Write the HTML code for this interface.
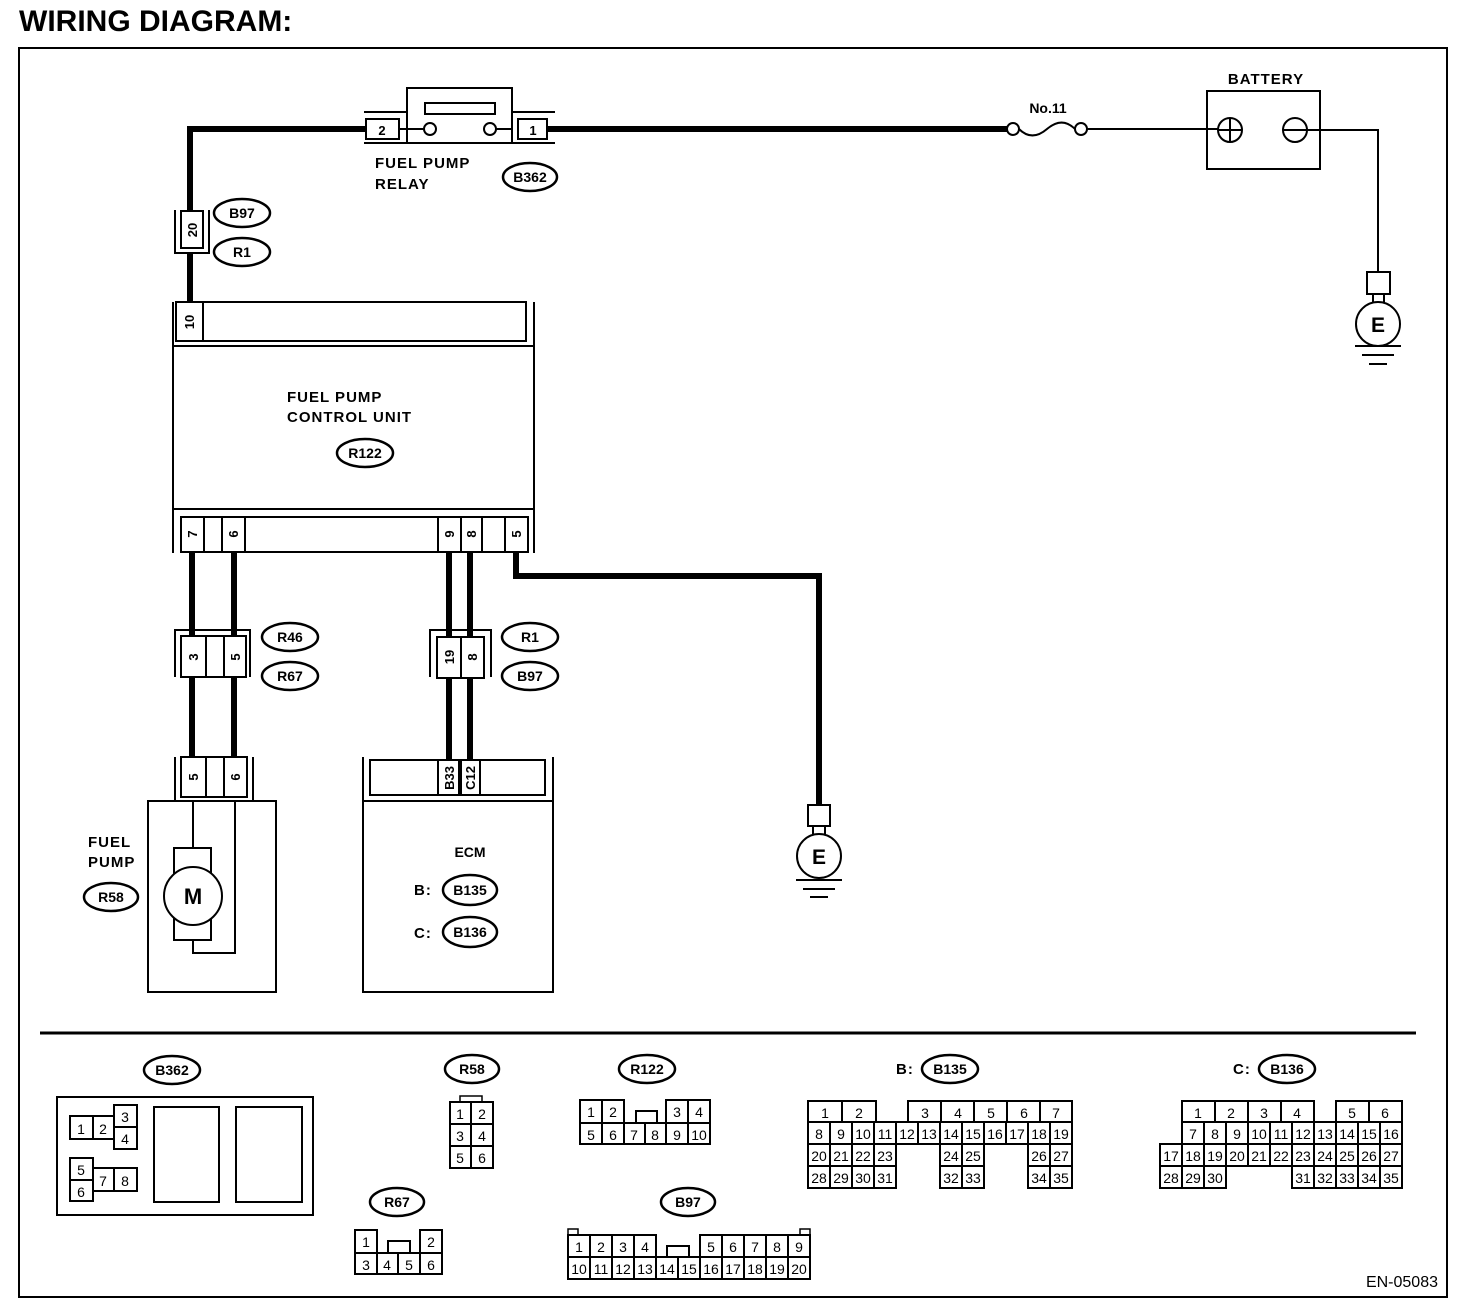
<!DOCTYPE html>
<html><head><meta charset="utf-8"><style>
html,body{margin:0;padding:0;background:#fff;}
svg{display:block;}
text{font-family:"Liberation Sans",sans-serif;fill:#000;}
.b{font-weight:bold;font-size:15px;letter-spacing:1px;}
.e{font-weight:bold;font-size:14px;text-anchor:middle;}
.n{font-size:14px;text-anchor:middle;}
.p{font-weight:bold;font-size:13px;text-anchor:middle;}
.c{fill:#fff;stroke:#000;stroke-width:2;}
.t{fill:none;stroke:#000;stroke-width:2;}
.w{fill:none;stroke:#000;stroke-width:6;}
.o{fill:#fff;stroke:#000;stroke-width:2.5;}
</style></head><body>
<svg width="1472" height="1304" viewBox="0 0 1472 1304" xmlns="http://www.w3.org/2000/svg">
<text x="19" y="31" style="font-weight:bold;font-size:30px;">WIRING DIAGRAM:</text>
<rect x="19" y="48" width="1428" height="1249" class="t"/>

<!-- wires -->
<polyline points="365,129 190,129 190,210" class="w"/>
<line x1="190" y1="253" x2="190" y2="302" class="w"/>
<line x1="547" y1="129" x2="1007" y2="129" class="w"/>
<line x1="192" y1="552" x2="192" y2="636" class="w"/>
<line x1="234" y1="552" x2="234" y2="636" class="w"/>
<line x1="192" y1="677" x2="192" y2="757" class="w"/>
<line x1="234" y1="677" x2="234" y2="757" class="w"/>
<line x1="449" y1="552" x2="449" y2="637" class="w"/>
<line x1="470" y1="552" x2="470" y2="637" class="w"/>
<line x1="449" y1="678" x2="449" y2="760" class="w"/>
<line x1="470" y1="678" x2="470" y2="760" class="w"/>
<polyline points="516,552 516,576 819,576 819,805" class="w"/>

<!-- relay -->
<line x1="364" y1="112" x2="408" y2="112" class="t"/>
<line x1="364" y1="143" x2="408" y2="143" class="t"/>
<rect x="366" y="119" width="33" height="20" class="c"/>
<text x="382" y="135" class="p">2</text>
<rect x="407" y="88" width="105" height="55" class="c"/>
<rect x="425" y="103" width="70" height="11" class="c"/>
<line x1="399" y1="129" x2="424" y2="129" class="t"/>
<line x1="496" y1="129" x2="512" y2="129" class="t"/>
<circle cx="430" cy="129" r="6" class="c"/>
<circle cx="490" cy="129" r="6" class="c"/>
<line x1="512" y1="112" x2="555" y2="112" class="t"/>
<line x1="512" y1="143" x2="555" y2="143" class="t"/>
<rect x="518" y="119" width="29" height="20" class="c"/>
<text x="533" y="135" class="p">1</text>
<text x="375" y="168" class="b">FUEL PUMP</text>
<text x="375" y="189" class="b">RELAY</text>
<ellipse cx="530" cy="177" rx="27" ry="14" class="o"/><text x="530" y="182" class="e">B362</text>

<!-- connector 20 -->
<polyline points="175,210 175,253 209,253 209,210" class="t"/>
<rect x="181" y="211" width="22" height="37" class="c"/>
<text transform="translate(197,230) rotate(-90)" class="p">20</text>
<ellipse cx="242" cy="213" rx="28" ry="14" class="o"/><text x="242" y="218" class="e">B97</text>
<ellipse cx="242" cy="252" rx="28" ry="14" class="o"/><text x="242" y="257" class="e">R1</text>

<!-- FPCU -->
<line x1="173" y1="302" x2="173" y2="553" class="t"/>
<line x1="534" y1="302" x2="534" y2="553" class="t"/>
<rect x="176" y="302" width="350" height="39" class="c"/>
<line x1="203" y1="302" x2="203" y2="341" class="t"/>
<text transform="translate(194,322) rotate(-90)" class="p">10</text>
<line x1="173" y1="346" x2="534" y2="346" class="t"/>
<line x1="173" y1="509" x2="534" y2="509" class="t"/>
<text x="287" y="402" class="b">FUEL PUMP</text>
<text x="287" y="422" class="b">CONTROL UNIT</text>
<ellipse cx="365" cy="453" rx="28" ry="14" class="o"/><text x="365" y="458" class="e">R122</text>
<rect x="181" y="517" width="347" height="35" class="c"/>
<line x1="204" y1="517" x2="204" y2="552" class="t"/>
<line x1="222" y1="517" x2="222" y2="552" class="t"/>
<line x1="245" y1="517" x2="245" y2="552" class="t"/>
<line x1="438" y1="517" x2="438" y2="552" class="t"/>
<line x1="461" y1="517" x2="461" y2="552" class="t"/>
<line x1="482" y1="517" x2="482" y2="552" class="t"/>
<line x1="505" y1="517" x2="505" y2="552" class="t"/>
<text transform="translate(197,534) rotate(-90)" class="p">7</text>
<text transform="translate(238,534) rotate(-90)" class="p">6</text>
<text transform="translate(454,534) rotate(-90)" class="p">9</text>
<text transform="translate(476,534) rotate(-90)" class="p">8</text>
<text transform="translate(521,534) rotate(-90)" class="p">5</text>

<!-- R46 connector -->
<polyline points="175,677 175,630 250,630 250,677" class="t"/>
<rect x="181" y="636" width="65" height="41" class="c"/>
<line x1="206" y1="636" x2="206" y2="677" class="t"/>
<line x1="224" y1="636" x2="224" y2="677" class="t"/>
<text transform="translate(198,657) rotate(-90)" class="p">3</text>
<text transform="translate(240,657) rotate(-90)" class="p">5</text>
<ellipse cx="290" cy="637" rx="28" ry="14" class="o"/><text x="290" y="642" class="e">R46</text>
<ellipse cx="290" cy="676" rx="28" ry="14" class="o"/><text x="290" y="681" class="e">R67</text>

<!-- R1 connector -->
<polyline points="430,677 430,630 491,630 491,677" class="t"/>
<rect x="437" y="637" width="47" height="41" class="c"/>
<line x1="461" y1="637" x2="461" y2="678" class="t"/>
<text transform="translate(454,657) rotate(-90)" class="p">19</text>
<text transform="translate(477,657) rotate(-90)" class="p">8</text>
<ellipse cx="530" cy="637" rx="28" ry="14" class="o"/><text x="530" y="642" class="e">R1</text>
<ellipse cx="530" cy="676" rx="28" ry="14" class="o"/><text x="530" y="681" class="e">B97</text>

<!-- fuel pump -->
<polyline points="175,757 175,801 253,801 253,757" class="t"/>
<rect x="181" y="757" width="66" height="40" class="c"/>
<line x1="206" y1="757" x2="206" y2="797" class="t"/>
<line x1="224" y1="757" x2="224" y2="797" class="t"/>
<text transform="translate(198,777) rotate(-90)" class="p">5</text>
<text transform="translate(240,777) rotate(-90)" class="p">6</text>
<rect x="148" y="801" width="128" height="191" class="c"/>
<line x1="193" y1="801" x2="193" y2="848" class="t"/>
<rect x="174" y="848" width="37" height="92" class="c"/>
<circle cx="193" cy="896" r="29" class="c"/>
<text x="193" y="904" style="font-weight:bold;font-size:22px;text-anchor:middle;">M</text>
<polyline points="193,940 193,953 235,953 235,801" class="t"/>
<text x="88" y="847" class="b">FUEL</text>
<text x="88" y="867" class="b">PUMP</text>
<ellipse cx="111" cy="897" rx="27" ry="14" class="o"/><text x="111" y="902" class="e">R58</text>

<!-- ECM -->
<polyline points="363,757 363,801 553,801 553,757" class="t"/>
<rect x="370" y="760" width="175" height="35" class="c"/>
<line x1="438" y1="760" x2="438" y2="795" class="t"/>
<line x1="459" y1="760" x2="459" y2="795" class="t"/>
<line x1="461" y1="760" x2="461" y2="795" class="t"/>
<line x1="480" y1="760" x2="480" y2="795" class="t"/>
<text transform="translate(454,778) rotate(-90)" class="p">B33</text>
<text transform="translate(475,778) rotate(-90)" class="p">C12</text>
<rect x="363" y="801" width="190" height="191" class="c"/>
<text x="470" y="857" class="e">ECM</text>
<text x="414" y="895" class="b">B:</text>
<ellipse cx="470" cy="890" rx="27" ry="15" class="o"/><text x="470" y="895" class="e">B135</text>
<text x="414" y="938" class="b">C:</text>
<ellipse cx="470" cy="932" rx="27" ry="15" class="o"/><text x="470" y="937" class="e">B136</text>

<!-- ground mid -->
<rect x="808" y="805" width="22" height="21" class="c"/>
<line x1="813" y1="826" x2="813" y2="834" class="t"/><line x1="825" y1="826" x2="825" y2="834" class="t"/>
<circle cx="819" cy="856" r="22" class="c"/>
<text x="819" y="864" style="font-weight:bold;font-size:21px;text-anchor:middle;">E</text>
<line x1="796" y1="880" x2="842" y2="880" class="t"/>
<line x1="803" y1="889" x2="835" y2="889" class="t"/>
<line x1="810" y1="897" x2="828" y2="897" class="t"/>

<!-- fuse / battery -->
<circle cx="1013" cy="129" r="6" class="c"/>
<circle cx="1081" cy="129" r="6" class="c"/>
<path d="M1019,129 C1030,140 1040,135 1047,129 C1054,123 1064,118 1075,129" class="t"/>
<text x="1048" y="113" class="e" style="font-weight:bold;">No.11</text>
<line x1="1087" y1="129" x2="1218" y2="129" class="t"/>
<rect x="1207" y="91" width="113" height="78" class="t"/>
<text x="1266" y="84" class="e" style="letter-spacing:1px;font-size:15px;">BATTERY</text>
<circle cx="1230" cy="130" r="12" class="c"/>
<line x1="1218" y1="130" x2="1242" y2="130" class="t"/><line x1="1230" y1="118" x2="1230" y2="142" class="t"/>
<circle cx="1295" cy="130" r="12" class="c"/>
<polyline points="1283,130 1378,130 1378,272" class="t"/>
<rect x="1367" y="272" width="23" height="22" class="c"/>
<line x1="1373" y1="294" x2="1373" y2="302" class="t"/><line x1="1384" y1="294" x2="1384" y2="302" class="t"/>
<circle cx="1378" cy="324" r="22" class="c"/>
<text x="1378" y="332" style="font-weight:bold;font-size:21px;text-anchor:middle;">E</text>
<line x1="1355" y1="346" x2="1401" y2="346" class="t"/>
<line x1="1362" y1="355" x2="1394" y2="355" class="t"/>
<line x1="1369" y1="364" x2="1387" y2="364" class="t"/>

<line x1="40" y1="1033" x2="1416" y2="1033" style="stroke:#000;stroke-width:3;"/>

<!-- B362 -->
<ellipse cx="172" cy="1070" rx="28" ry="14" class="o"/><text x="172" y="1075" class="e">B362</text>
<rect x="57" y="1097" width="256" height="118" class="t"/>
<rect x="70" y="1116" width="23" height="23" class="c"/><text x="81" y="1134" class="n">1</text>
<rect x="93" y="1116" width="21" height="23" class="c"/><text x="103" y="1134" class="n">2</text>
<rect x="114" y="1105" width="23" height="22" class="c"/><text x="125" y="1122" class="n">3</text>
<rect x="114" y="1127" width="23" height="22" class="c"/><text x="125" y="1144" class="n">4</text>
<rect x="70" y="1158" width="23" height="22" class="c"/><text x="81" y="1175" class="n">5</text>
<rect x="70" y="1180" width="23" height="21" class="c"/><text x="81" y="1197" class="n">6</text>
<rect x="93" y="1168" width="21" height="23" class="c"/><text x="103" y="1186" class="n">7</text>
<rect x="114" y="1168" width="23" height="23" class="c"/><text x="125" y="1186" class="n">8</text>
<rect x="154" y="1107" width="65" height="95" class="c"/>
<rect x="236" y="1107" width="66" height="95" class="c"/>

<!-- R58 -->
<ellipse cx="472" cy="1069" rx="27" ry="14" class="o"/><text x="472" y="1074" class="e">R58</text>
<rect x="460" y="1096" width="22" height="6" class="c" style="stroke-width:1.5"/>
<rect x="450" y="1102" width="21" height="22" class="c"/><text x="460" y="1119" class="n">1</text>
<rect x="471" y="1102" width="22" height="22" class="c"/><text x="482" y="1119" class="n">2</text>
<rect x="450" y="1124" width="21" height="22" class="c"/><text x="460" y="1141" class="n">3</text>
<rect x="471" y="1124" width="22" height="22" class="c"/><text x="482" y="1141" class="n">4</text>
<rect x="450" y="1146" width="21" height="22" class="c"/><text x="460" y="1163" class="n">5</text>
<rect x="471" y="1146" width="22" height="22" class="c"/><text x="482" y="1163" class="n">6</text>

<!-- R122 -->
<ellipse cx="647" cy="1069" rx="28" ry="14" class="o"/><text x="647" y="1074" class="e">R122</text>
<rect x="580" y="1100" width="22" height="23" class="c"/><text x="591" y="1117" class="n">1</text>
<rect x="602" y="1100" width="22" height="23" class="c"/><text x="613" y="1117" class="n">2</text>
<rect x="666" y="1100" width="22" height="23" class="c"/><text x="677" y="1117" class="n">3</text>
<rect x="688" y="1100" width="22" height="23" class="c"/><text x="699" y="1117" class="n">4</text>
<polyline points="636,1123 636,1111 657,1111 657,1123" class="t"/>
<rect x="580" y="1123" width="22" height="21" class="c"/><text x="591" y="1140" class="n">5</text>
<rect x="602" y="1123" width="22" height="21" class="c"/><text x="613" y="1140" class="n">6</text>
<rect x="624" y="1123" width="21" height="21" class="c"/><text x="634" y="1140" class="n">7</text>
<rect x="645" y="1123" width="21" height="21" class="c"/><text x="655" y="1140" class="n">8</text>
<rect x="666" y="1123" width="22" height="21" class="c"/><text x="677" y="1140" class="n">9</text>
<rect x="688" y="1123" width="22" height="21" class="c"/><text x="699" y="1140" class="n">10</text>

<!-- R67 -->
<ellipse cx="397" cy="1202" rx="27" ry="14" class="o"/><text x="397" y="1207" class="e">R67</text>
<rect x="355" y="1230" width="22" height="23" class="c"/><text x="366" y="1247" class="n">1</text>
<rect x="420" y="1230" width="22" height="23" class="c"/><text x="431" y="1247" class="n">2</text>
<polyline points="388,1253 388,1241 410,1241 410,1253" class="t"/>
<rect x="355" y="1253" width="22" height="21" class="c"/><text x="366" y="1270" class="n">3</text>
<rect x="377" y="1253" width="21" height="21" class="c"/><text x="387" y="1270" class="n">4</text>
<rect x="398" y="1253" width="22" height="21" class="c"/><text x="409" y="1270" class="n">5</text>
<rect x="420" y="1253" width="22" height="21" class="c"/><text x="431" y="1270" class="n">6</text>

<!-- B97 -->
<ellipse cx="688" cy="1202" rx="27" ry="14" class="o"/><text x="688" y="1207" class="e">B97</text>
<rect x="568" y="1229" width="10" height="6" class="c" style="stroke-width:1.5"/>
<rect x="800" y="1229" width="10" height="6" class="c" style="stroke-width:1.5"/>
<rect x="568" y="1235" width="22" height="22" class="c"/><text x="579" y="1252" class="n">1</text>
<rect x="590" y="1235" width="22" height="22" class="c"/><text x="601" y="1252" class="n">2</text>
<rect x="612" y="1235" width="22" height="22" class="c"/><text x="623" y="1252" class="n">3</text>
<rect x="634" y="1235" width="22" height="22" class="c"/><text x="645" y="1252" class="n">4</text>
<polyline points="667,1257 667,1246 689,1246 689,1257" class="t"/>
<rect x="700" y="1235" width="22" height="22" class="c"/><text x="711" y="1252" class="n">5</text>
<rect x="722" y="1235" width="22" height="22" class="c"/><text x="733" y="1252" class="n">6</text>
<rect x="744" y="1235" width="22" height="22" class="c"/><text x="755" y="1252" class="n">7</text>
<rect x="766" y="1235" width="22" height="22" class="c"/><text x="777" y="1252" class="n">8</text>
<rect x="788" y="1235" width="22" height="22" class="c"/><text x="799" y="1252" class="n">9</text>
<rect x="568" y="1257" width="22" height="22" class="c"/><text x="579" y="1274" class="n">10</text>
<rect x="590" y="1257" width="22" height="22" class="c"/><text x="601" y="1274" class="n">11</text>
<rect x="612" y="1257" width="22" height="22" class="c"/><text x="623" y="1274" class="n">12</text>
<rect x="634" y="1257" width="22" height="22" class="c"/><text x="645" y="1274" class="n">13</text>
<rect x="656" y="1257" width="22" height="22" class="c"/><text x="667" y="1274" class="n">14</text>
<rect x="678" y="1257" width="22" height="22" class="c"/><text x="689" y="1274" class="n">15</text>
<rect x="700" y="1257" width="22" height="22" class="c"/><text x="711" y="1274" class="n">16</text>
<rect x="722" y="1257" width="22" height="22" class="c"/><text x="733" y="1274" class="n">17</text>
<rect x="744" y="1257" width="22" height="22" class="c"/><text x="755" y="1274" class="n">18</text>
<rect x="766" y="1257" width="22" height="22" class="c"/><text x="777" y="1274" class="n">19</text>
<rect x="788" y="1257" width="22" height="22" class="c"/><text x="799" y="1274" class="n">20</text>

<!-- B135 -->
<text x="896" y="1074" class="b">B:</text>
<ellipse cx="950" cy="1069" rx="28" ry="14" class="o"/><text x="950" y="1074" class="e">B135</text>
<rect x="808" y="1101" width="34" height="21" class="c"/><text x="825" y="1118" class="n">1</text>
<rect x="842" y="1101" width="34" height="21" class="c"/><text x="859" y="1118" class="n">2</text>
<rect x="908" y="1101" width="33" height="21" class="c"/><text x="925" y="1118" class="n">3</text>
<rect x="941" y="1101" width="33" height="21" class="c"/><text x="958" y="1118" class="n">4</text>
<rect x="974" y="1101" width="33" height="21" class="c"/><text x="991" y="1118" class="n">5</text>
<rect x="1007" y="1101" width="33" height="21" class="c"/><text x="1024" y="1118" class="n">6</text>
<rect x="1040" y="1101" width="32" height="21" class="c"/><text x="1056" y="1118" class="n">7</text>
<rect x="808" y="1122" width="22" height="22" class="c"/><text x="819" y="1139" class="n">8</text>
<rect x="830" y="1122" width="22" height="22" class="c"/><text x="841" y="1139" class="n">9</text>
<rect x="852" y="1122" width="22" height="22" class="c"/><text x="863" y="1139" class="n">10</text>
<rect x="874" y="1122" width="22" height="22" class="c"/><text x="885" y="1139" class="n">11</text>
<rect x="896" y="1122" width="22" height="22" class="c"/><text x="907" y="1139" class="n">12</text>
<rect x="918" y="1122" width="22" height="22" class="c"/><text x="929" y="1139" class="n">13</text>
<rect x="940" y="1122" width="22" height="22" class="c"/><text x="951" y="1139" class="n">14</text>
<rect x="962" y="1122" width="22" height="22" class="c"/><text x="973" y="1139" class="n">15</text>
<rect x="984" y="1122" width="22" height="22" class="c"/><text x="995" y="1139" class="n">16</text>
<rect x="1006" y="1122" width="22" height="22" class="c"/><text x="1017" y="1139" class="n">17</text>
<rect x="1028" y="1122" width="22" height="22" class="c"/><text x="1039" y="1139" class="n">18</text>
<rect x="1050" y="1122" width="22" height="22" class="c"/><text x="1061" y="1139" class="n">19</text>
<rect x="808" y="1144" width="22" height="22" class="c"/><text x="819" y="1161" class="n">20</text>
<rect x="830" y="1144" width="22" height="22" class="c"/><text x="841" y="1161" class="n">21</text>
<rect x="852" y="1144" width="22" height="22" class="c"/><text x="863" y="1161" class="n">22</text>
<rect x="874" y="1144" width="22" height="22" class="c"/><text x="885" y="1161" class="n">23</text>
<rect x="940" y="1144" width="22" height="22" class="c"/><text x="951" y="1161" class="n">24</text>
<rect x="962" y="1144" width="22" height="22" class="c"/><text x="973" y="1161" class="n">25</text>
<rect x="1028" y="1144" width="22" height="22" class="c"/><text x="1039" y="1161" class="n">26</text>
<rect x="1050" y="1144" width="22" height="22" class="c"/><text x="1061" y="1161" class="n">27</text>
<rect x="808" y="1166" width="22" height="22" class="c"/><text x="819" y="1183" class="n">28</text>
<rect x="830" y="1166" width="22" height="22" class="c"/><text x="841" y="1183" class="n">29</text>
<rect x="852" y="1166" width="22" height="22" class="c"/><text x="863" y="1183" class="n">30</text>
<rect x="874" y="1166" width="22" height="22" class="c"/><text x="885" y="1183" class="n">31</text>
<rect x="940" y="1166" width="22" height="22" class="c"/><text x="951" y="1183" class="n">32</text>
<rect x="962" y="1166" width="22" height="22" class="c"/><text x="973" y="1183" class="n">33</text>
<rect x="1028" y="1166" width="22" height="22" class="c"/><text x="1039" y="1183" class="n">34</text>
<rect x="1050" y="1166" width="22" height="22" class="c"/><text x="1061" y="1183" class="n">35</text>

<!-- B136 -->
<text x="1233" y="1074" class="b">C:</text>
<ellipse cx="1287" cy="1069" rx="28" ry="14" class="o"/><text x="1287" y="1074" class="e">B136</text>
<rect x="1182" y="1101" width="33" height="21" class="c"/><text x="1198" y="1118" class="n">1</text>
<rect x="1215" y="1101" width="33" height="21" class="c"/><text x="1231" y="1118" class="n">2</text>
<rect x="1248" y="1101" width="33" height="21" class="c"/><text x="1264" y="1118" class="n">3</text>
<rect x="1281" y="1101" width="33" height="21" class="c"/><text x="1297" y="1118" class="n">4</text>
<rect x="1336" y="1101" width="33" height="21" class="c"/><text x="1352" y="1118" class="n">5</text>
<rect x="1369" y="1101" width="33" height="21" class="c"/><text x="1385" y="1118" class="n">6</text>
<rect x="1182" y="1122" width="22" height="22" class="c"/><text x="1193" y="1139" class="n">7</text>
<rect x="1204" y="1122" width="22" height="22" class="c"/><text x="1215" y="1139" class="n">8</text>
<rect x="1226" y="1122" width="22" height="22" class="c"/><text x="1237" y="1139" class="n">9</text>
<rect x="1248" y="1122" width="22" height="22" class="c"/><text x="1259" y="1139" class="n">10</text>
<rect x="1270" y="1122" width="22" height="22" class="c"/><text x="1281" y="1139" class="n">11</text>
<rect x="1292" y="1122" width="22" height="22" class="c"/><text x="1303" y="1139" class="n">12</text>
<rect x="1314" y="1122" width="22" height="22" class="c"/><text x="1325" y="1139" class="n">13</text>
<rect x="1336" y="1122" width="22" height="22" class="c"/><text x="1347" y="1139" class="n">14</text>
<rect x="1358" y="1122" width="22" height="22" class="c"/><text x="1369" y="1139" class="n">15</text>
<rect x="1380" y="1122" width="22" height="22" class="c"/><text x="1391" y="1139" class="n">16</text>
<rect x="1160" y="1144" width="22" height="22" class="c"/><text x="1171" y="1161" class="n">17</text>
<rect x="1182" y="1144" width="22" height="22" class="c"/><text x="1193" y="1161" class="n">18</text>
<rect x="1204" y="1144" width="22" height="22" class="c"/><text x="1215" y="1161" class="n">19</text>
<rect x="1226" y="1144" width="22" height="22" class="c"/><text x="1237" y="1161" class="n">20</text>
<rect x="1248" y="1144" width="22" height="22" class="c"/><text x="1259" y="1161" class="n">21</text>
<rect x="1270" y="1144" width="22" height="22" class="c"/><text x="1281" y="1161" class="n">22</text>
<rect x="1292" y="1144" width="22" height="22" class="c"/><text x="1303" y="1161" class="n">23</text>
<rect x="1314" y="1144" width="22" height="22" class="c"/><text x="1325" y="1161" class="n">24</text>
<rect x="1336" y="1144" width="22" height="22" class="c"/><text x="1347" y="1161" class="n">25</text>
<rect x="1358" y="1144" width="22" height="22" class="c"/><text x="1369" y="1161" class="n">26</text>
<rect x="1380" y="1144" width="22" height="22" class="c"/><text x="1391" y="1161" class="n">27</text>
<rect x="1160" y="1166" width="22" height="22" class="c"/><text x="1171" y="1183" class="n">28</text>
<rect x="1182" y="1166" width="22" height="22" class="c"/><text x="1193" y="1183" class="n">29</text>
<rect x="1204" y="1166" width="22" height="22" class="c"/><text x="1215" y="1183" class="n">30</text>
<rect x="1292" y="1166" width="22" height="22" class="c"/><text x="1303" y="1183" class="n">31</text>
<rect x="1314" y="1166" width="22" height="22" class="c"/><text x="1325" y="1183" class="n">32</text>
<rect x="1336" y="1166" width="22" height="22" class="c"/><text x="1347" y="1183" class="n">33</text>
<rect x="1358" y="1166" width="22" height="22" class="c"/><text x="1369" y="1183" class="n">34</text>
<rect x="1380" y="1166" width="22" height="22" class="c"/><text x="1391" y="1183" class="n">35</text>

<text x="1438" y="1287" style="font-size:16px;text-anchor:end;">EN-05083</text>
</svg>
</body></html>
